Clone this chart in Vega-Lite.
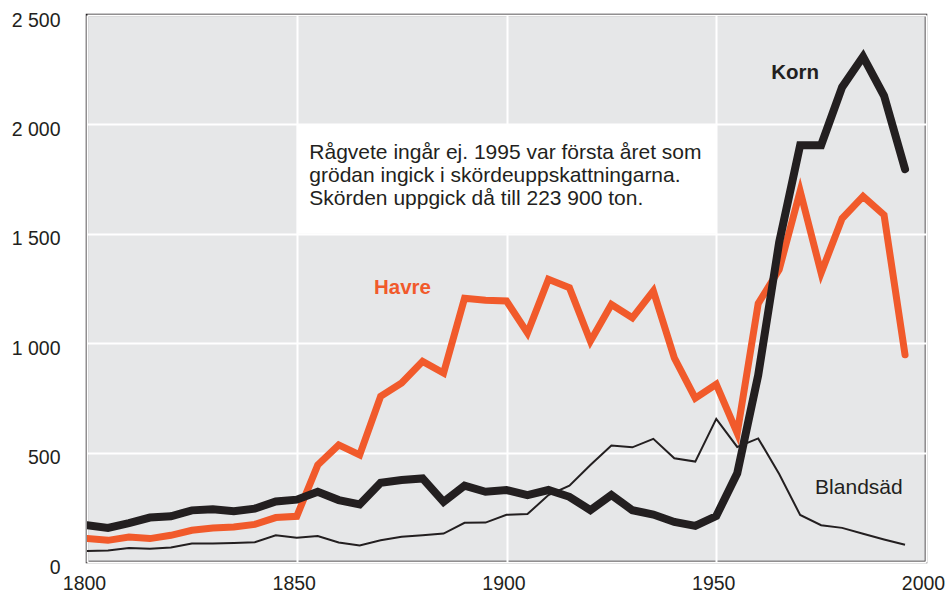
{
  "$schema": "https://vega.github.io/schema/vega-lite/v6.json",
  "width": 839,
  "height": 547,
  "autosize": {"type": "none"},
  "padding": {"left": 87, "top": 15, "right": 26, "bottom": 35},
  "background": "white",
  "config": {
    "view": {"fill": "#e6e7e8", "stroke": "#231f20", "strokeWidth": 2.5},
    "font": "Liberation Sans",
    "axis": {
      "grid": true, "gridColor": "#ffffff", "gridWidth": 2, "gridOpacity": 1,
      "domain": false, "ticks": false,
      "labelFont": "Liberation Sans", "labelFontSize": 19.5, "labelColor": "#231f20",
      "title": null
    }
  },
  "datasets": {
    "crops": [
      {"year": 1800, "crop": "Korn", "value": 168}, {"year": 1805, "crop": "Korn", "value": 156},
      {"year": 1810, "crop": "Korn", "value": 178}, {"year": 1815, "crop": "Korn", "value": 203},
      {"year": 1820, "crop": "Korn", "value": 209}, {"year": 1825, "crop": "Korn", "value": 236},
      {"year": 1830, "crop": "Korn", "value": 241}, {"year": 1835, "crop": "Korn", "value": 232},
      {"year": 1840, "crop": "Korn", "value": 244}, {"year": 1845, "crop": "Korn", "value": 277},
      {"year": 1850, "crop": "Korn", "value": 285}, {"year": 1855, "crop": "Korn", "value": 321},
      {"year": 1860, "crop": "Korn", "value": 283}, {"year": 1865, "crop": "Korn", "value": 263},
      {"year": 1870, "crop": "Korn", "value": 362}, {"year": 1875, "crop": "Korn", "value": 375},
      {"year": 1880, "crop": "Korn", "value": 382}, {"year": 1885, "crop": "Korn", "value": 275},
      {"year": 1890, "crop": "Korn", "value": 349}, {"year": 1895, "crop": "Korn", "value": 321},
      {"year": 1900, "crop": "Korn", "value": 329}, {"year": 1905, "crop": "Korn", "value": 306},
      {"year": 1910, "crop": "Korn", "value": 329}, {"year": 1915, "crop": "Korn", "value": 298},
      {"year": 1920, "crop": "Korn", "value": 237}, {"year": 1925, "crop": "Korn", "value": 306},
      {"year": 1930, "crop": "Korn", "value": 237}, {"year": 1935, "crop": "Korn", "value": 217},
      {"year": 1940, "crop": "Korn", "value": 183}, {"year": 1945, "crop": "Korn", "value": 165},
      {"year": 1950, "crop": "Korn", "value": 210}, {"year": 1955, "crop": "Korn", "value": 405},
      {"year": 1960, "crop": "Korn", "value": 854}, {"year": 1965, "crop": "Korn", "value": 1461},
      {"year": 1970, "crop": "Korn", "value": 1905}, {"year": 1975, "crop": "Korn", "value": 1905},
      {"year": 1980, "crop": "Korn", "value": 2170}, {"year": 1985, "crop": "Korn", "value": 2310},
      {"year": 1990, "crop": "Korn", "value": 2131}, {"year": 1995, "crop": "Korn", "value": 1796},

      {"year": 1800, "crop": "Havre", "value": 107}, {"year": 1805, "crop": "Havre", "value": 99},
      {"year": 1810, "crop": "Havre", "value": 114}, {"year": 1815, "crop": "Havre", "value": 107},
      {"year": 1820, "crop": "Havre", "value": 122}, {"year": 1825, "crop": "Havre", "value": 145},
      {"year": 1830, "crop": "Havre", "value": 155}, {"year": 1835, "crop": "Havre", "value": 160},
      {"year": 1840, "crop": "Havre", "value": 172}, {"year": 1845, "crop": "Havre", "value": 203},
      {"year": 1850, "crop": "Havre", "value": 209}, {"year": 1855, "crop": "Havre", "value": 443},
      {"year": 1860, "crop": "Havre", "value": 535}, {"year": 1865, "crop": "Havre", "value": 489},
      {"year": 1870, "crop": "Havre", "value": 757}, {"year": 1875, "crop": "Havre", "value": 818},
      {"year": 1880, "crop": "Havre", "value": 917}, {"year": 1885, "crop": "Havre", "value": 864},
      {"year": 1890, "crop": "Havre", "value": 1205}, {"year": 1895, "crop": "Havre", "value": 1196},
      {"year": 1900, "crop": "Havre", "value": 1193}, {"year": 1905, "crop": "Havre", "value": 1047},
      {"year": 1910, "crop": "Havre", "value": 1292}, {"year": 1915, "crop": "Havre", "value": 1254},
      {"year": 1920, "crop": "Havre", "value": 1009}, {"year": 1925, "crop": "Havre", "value": 1177},
      {"year": 1930, "crop": "Havre", "value": 1116}, {"year": 1935, "crop": "Havre", "value": 1239},
      {"year": 1940, "crop": "Havre", "value": 933}, {"year": 1945, "crop": "Havre", "value": 749},
      {"year": 1950, "crop": "Havre", "value": 812}, {"year": 1955, "crop": "Havre", "value": 589},
      {"year": 1960, "crop": "Havre", "value": 1181}, {"year": 1965, "crop": "Havre", "value": 1336},
      {"year": 1970, "crop": "Havre", "value": 1695}, {"year": 1975, "crop": "Havre", "value": 1321},
      {"year": 1980, "crop": "Havre", "value": 1570}, {"year": 1985, "crop": "Havre", "value": 1671},
      {"year": 1990, "crop": "Havre", "value": 1586}, {"year": 1995, "crop": "Havre", "value": 947},

      {"year": 1800, "crop": "Blandsäd", "value": 50}, {"year": 1805, "crop": "Blandsäd", "value": 53},
      {"year": 1810, "crop": "Blandsäd", "value": 64}, {"year": 1815, "crop": "Blandsäd", "value": 61},
      {"year": 1820, "crop": "Blandsäd", "value": 66}, {"year": 1825, "crop": "Blandsäd", "value": 84},
      {"year": 1830, "crop": "Blandsäd", "value": 84}, {"year": 1835, "crop": "Blandsäd", "value": 87},
      {"year": 1840, "crop": "Blandsäd", "value": 90}, {"year": 1845, "crop": "Blandsäd", "value": 122},
      {"year": 1850, "crop": "Blandsäd", "value": 111}, {"year": 1855, "crop": "Blandsäd", "value": 119},
      {"year": 1860, "crop": "Blandsäd", "value": 89}, {"year": 1865, "crop": "Blandsäd", "value": 76},
      {"year": 1870, "crop": "Blandsäd", "value": 99}, {"year": 1875, "crop": "Blandsäd", "value": 115},
      {"year": 1880, "crop": "Blandsäd", "value": 122}, {"year": 1885, "crop": "Blandsäd", "value": 130},
      {"year": 1890, "crop": "Blandsäd", "value": 179}, {"year": 1895, "crop": "Blandsäd", "value": 180},
      {"year": 1900, "crop": "Blandsäd", "value": 216}, {"year": 1905, "crop": "Blandsäd", "value": 219},
      {"year": 1910, "crop": "Blandsäd", "value": 306}, {"year": 1915, "crop": "Blandsäd", "value": 349},
      {"year": 1920, "crop": "Blandsäd", "value": 443}, {"year": 1925, "crop": "Blandsäd", "value": 532},
      {"year": 1930, "crop": "Blandsäd", "value": 524}, {"year": 1935, "crop": "Blandsäd", "value": 563},
      {"year": 1940, "crop": "Blandsäd", "value": 474}, {"year": 1945, "crop": "Blandsäd", "value": 459},
      {"year": 1950, "crop": "Blandsäd", "value": 654}, {"year": 1955, "crop": "Blandsäd", "value": 526},
      {"year": 1960, "crop": "Blandsäd", "value": 565}, {"year": 1965, "crop": "Blandsäd", "value": 402},
      {"year": 1970, "crop": "Blandsäd", "value": 215}, {"year": 1975, "crop": "Blandsäd", "value": 168},
      {"year": 1980, "crop": "Blandsäd", "value": 156}, {"year": 1985, "crop": "Blandsäd", "value": 129},
      {"year": 1990, "crop": "Blandsäd", "value": 103}, {"year": 1995, "crop": "Blandsäd", "value": 79}
    ],
    "box": [{"x1": 1850, "x2": 1950, "y1": 1500, "y2": 2000}],
    "note": [{"year": 1853, "value": 1843, "text": "Rågvete ingår ej. 1995 var första året som\ngrödan ingick i skördeuppskattningarna.\nSkörden uppgick då till 223 900 ton."}],
    "labels": [
      {"year": 1875.2, "value": 1254, "text": "Havre", "crop": "Havre"},
      {"year": 1968.8, "value": 2233, "text": "Korn", "crop": "Korn"},
      {"year": 1984, "value": 337, "text": "Blandsäd", "crop": "Blandsäd"}
    ]
  },
  "layer": [
    {
      "data": {"name": "box"},
      "mark": {"type": "rect", "fill": "#ffffff"},
      "encoding": {
        "x": {"field": "x1", "type": "quantitative", "scale": {"domain": [1800, 2000], "nice": false, "zero": false},
              "axis": {"values": [1800, 1850, 1900, 1950, 2000], "format": "d", "labelPadding": 12, "labelFlush": false, "labelOffset": -3}},
        "x2": {"field": "x2"},
        "y": {"field": "y1", "type": "quantitative", "scale": {"domain": [0, 2500], "nice": false},
              "axis": {"values": [0, 500, 1000, 1500, 2000, 2500], "labelPadding": 27, "labelOffset": 5, "labelFlush": false,
                       "labelExpr": "replace(format(datum.value, ','), ',', ' ')"}},
        "y2": {"field": "y2"}
      }
    },
    {
      "data": {"name": "note"},
      "mark": {"type": "text", "align": "left", "baseline": "alphabetic", "fontSize": 21, "lineHeight": 23.2, "lineBreak": "\n", "color": "#231f20", "font": "Liberation Sans"},
      "encoding": {
        "x": {"field": "year", "type": "quantitative"},
        "y": {"field": "value", "type": "quantitative"},
        "text": {"field": "text"}
      }
    },
    {
      "data": {"name": "crops"},
      "transform": [{"filter": "datum.crop === 'Blandsäd'"}],
      "mark": {"type": "line", "color": "#231f20", "strokeWidth": 2, "strokeJoin": "miter", "clip": true},
      "encoding": {
        "x": {"field": "year", "type": "quantitative"},
        "y": {"field": "value", "type": "quantitative"}
      }
    },
    {
      "data": {"name": "crops"},
      "transform": [{"filter": "datum.crop === 'Havre'"}],
      "mark": {"type": "line", "color": "#f15a2b", "strokeWidth": 7, "strokeCap": "round", "strokeJoin": "miter", "clip": true},
      "encoding": {
        "x": {"field": "year", "type": "quantitative"},
        "y": {"field": "value", "type": "quantitative"}
      }
    },
    {
      "data": {"name": "crops"},
      "transform": [{"filter": "datum.crop === 'Korn'"}],
      "mark": {"type": "line", "color": "#231f20", "strokeWidth": 8, "strokeCap": "round", "strokeJoin": "miter", "clip": true},
      "encoding": {
        "x": {"field": "year", "type": "quantitative"},
        "y": {"field": "value", "type": "quantitative"}
      }
    },
    {
      "data": {"name": "labels"},
      "transform": [{"filter": "datum.crop !== 'Blandsäd'"}],
      "mark": {"type": "text", "align": "center", "baseline": "middle", "fontSize": 20.5, "fontWeight": "bold", "font": "Liberation Sans"},
      "encoding": {
        "x": {"field": "year", "type": "quantitative"},
        "y": {"field": "value", "type": "quantitative"},
        "text": {"field": "text"},
        "color": {"field": "crop", "type": "nominal", "scale": {"domain": ["Havre", "Korn"], "range": ["#f15a2b", "#231f20"]}, "legend": null}
      }
    },
    {
      "data": {"name": "labels"},
      "transform": [{"filter": "datum.crop === 'Blandsäd'"}],
      "mark": {"type": "text", "align": "center", "baseline": "middle", "fontSize": 21, "font": "Liberation Sans", "color": "#231f20"},
      "encoding": {
        "x": {"field": "year", "type": "quantitative"},
        "y": {"field": "value", "type": "quantitative"},
        "text": {"field": "text"}
      }
    }
  ]
}
